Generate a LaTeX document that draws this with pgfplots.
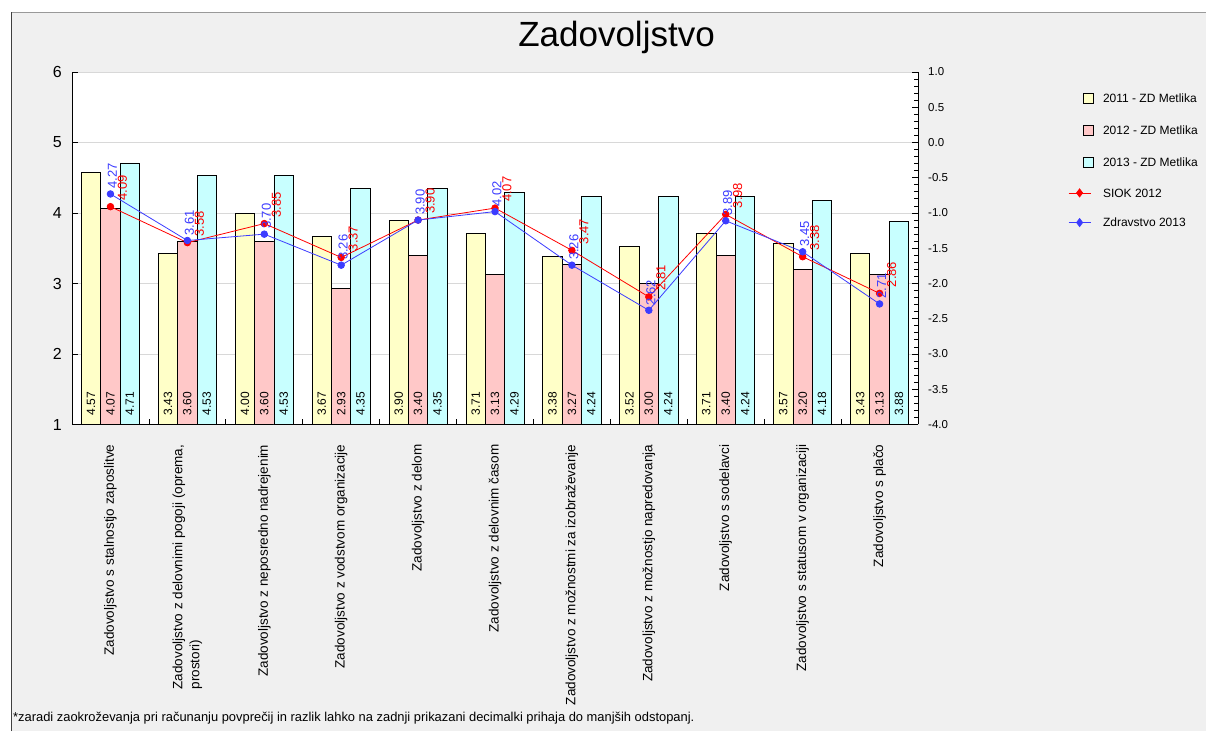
\documentclass[border=0pt]{standalone}
\usepackage{pgfplots}
\pgfplotsset{compat=1.18}
\usepackage{pgfplotstable}
\usepackage{fontspec}
\setmainfont{Liberation Sans}
\definecolor{cYel}{HTML}{FFFFC8}
\definecolor{cPink}{HTML}{FFC8C8}
\definecolor{cCyan}{HTML}{C8FFFF}
\definecolor{cRed}{HTML}{FF0000}
\definecolor{cBlue}{HTML}{3C3CFF}
\definecolor{cBg}{HTML}{F0F0F0}
\definecolor{cGrid}{HTML}{D8D8D8}

\pgfplotstableread{
x a b c s z
0 4.57 4.07 4.71 4.09 4.27
1 3.43 3.60 4.53 3.58 3.61
2 4.00 3.60 4.53 3.85 3.70
3 3.67 2.93 4.35 3.37 3.26
4 3.90 3.40 4.35 3.90 3.90
5 3.71 3.13 4.29 4.07 4.02
6 3.38 3.27 4.24 3.47 3.26
7 3.52 3.00 4.24 2.81 2.62
8 3.71 3.40 4.24 3.98 3.89
9 3.57 3.20 4.18 3.38 3.45
10 3.43 3.13 3.88 2.86 2.71
}\datatable

\pgfplotsset{
 mybarlegend/.style={legend image code/.code={\path (0pt,0pt) (25pt,0pt); \draw[##1,/tikz/.cd,line width=0.8pt] (15pt,-5pt) rectangle (25pt,5pt);}},
 mylinelegend/.style={legend image code/.code={\path (0pt,0pt) (25pt,0pt); \draw[mark repeat=2,mark phase=2,##1,/tikz/.cd,mark=diamond*,mark size=4pt] plot coordinates {(0pt,0pt) (11pt,0pt) (22pt,0pt)};}},
 barlbl/.style={forget plot, draw=none, point meta=explicit,
   nodes near coords={\pgfmathprintnumber[fixed,fixed zerofill,precision=2,assume math mode=true]{\pgfplotspointmeta}},
   every node near coord/.append style={font=\fontsize{12}{14}\selectfont, text=black, inner sep=0pt, yshift=9pt, rotate=90, anchor=west}},
 linelbl/.style n args={3}{forget plot, draw=none, point meta=explicit,
   nodes near coords={\pgfmathprintnumber[fixed,fixed zerofill,precision=2,assume math mode=true]{\pgfplotspointmeta}},
   every node near coord/.append style={font=\fontsize{13}{15}\selectfont, text=#1, inner sep=0pt, xshift=#2, yshift=#3, rotate=90, anchor=west}},
}

\begin{document}
\begin{tikzpicture}
\path[use as bounding box] (0,0) rectangle (1206pt,731pt);
\fill[white] (0,0) rectangle (1206pt,731pt);
\fill[cBg] (11pt,0) rectangle (1206pt,718.5pt);
\draw[color=black!40, line width=1.5pt] (11pt,718.5pt) -- (1206pt,718.5pt);
\draw[color=black!75, line width=1pt] (11.5pt,0) -- (11.5pt,719pt);
\node[anchor=base, inner sep=0pt, font=\fontsize{35}{40}\selectfont] at (616.5pt,684pt) {Zadovoljstvo};
\node[anchor=base west, inner sep=0pt, font=\fontsize{12.9}{15}\selectfont] at (13pt,10pt) {*zaradi zaokroževanja pri računanju povprečij in razlik lahko na zadnji prikazani decimalki prihaja do manjših odstopanj.};

\begin{axis}[
  at={(72pt,306.5pt)}, anchor=south west, scale only axis,
  width=846pt, height=352.5pt,
  xmin=-0.5, xmax=10.5, ymin=1, ymax=6,
  axis x line*=bottom, axis y line*=left,
  axis background/.style={fill=white},
  axis line style={line width=1pt, black},
  ytick={1,2,3,4,5,6}, yticklabels={1,2,3,4,5,6},
  yticklabel style={font=\fontsize{16}{18}\selectfont, inner sep=0pt, xshift=-10pt},
  ymajorgrids, grid style={cGrid, line width=0.8pt},
  tick align=inside, major tick length=6pt, minor tick length=6pt,
  every tick/.style={black, line width=0.8pt},
  xtick={0,...,10},
  major x tick style={draw=none},
  minor xtick={0.5,1.5,...,9.5},
  xticklabels={
    {Zadovoljstvo s stalnostjo zaposlitve},
    {Zadovoljstvo z delovnimi pogoji (oprema,\\prostori)},
    {Zadovoljstvo z neposredno nadrejenim},
    {Zadovoljstvo z vodstvom organizacije},
    {Zadovoljstvo z delom},
    {Zadovoljstvo z delovnim časom},
    {Zadovoljstvo z možnostmi za izobraževanje},
    {Zadovoljstvo z možnostjo napredovanja},
    {Zadovoljstvo s sodelavci},
    {Zadovoljstvo s statusom v organizaciji},
    {Zadovoljstvo s plačo}},
  xticklabel style={font=\fontsize{13.5}{17}\selectfont, align=left, inner sep=0pt, yshift=-20pt, rotate=90, anchor=east},
  legend cell align=left,
  legend style={at={(axis description cs:1.1773,0.9404)}, anchor=north west, draw=none, fill=none,
    inner sep=0pt, row sep=21pt, column sep=9pt, font=\fontsize{12}{14}\selectfont,
    nodes={inner sep=0pt, text height=8.6pt, text depth=0pt}},
]
\addplot[ybar, bar width=19.4pt, bar shift=0pt, fill=cYel, draw=black, line width=0.8pt, mybarlegend] table[x expr=\thisrow{x}-0.252, y=a] {\datatable};
\addlegendentry{2011 - ZD Metlika}
\addplot[ybar, bar width=19.4pt, bar shift=0pt, fill=cPink, draw=black, line width=0.8pt, mybarlegend] table[x=x, y=b] {\datatable};
\addlegendentry{2012 - ZD Metlika}
\addplot[ybar, bar width=19.4pt, bar shift=0pt, fill=cCyan, draw=black, line width=0.8pt, mybarlegend] table[x expr=\thisrow{x}+0.252, y=c] {\datatable};
\addlegendentry{2013 - ZD Metlika}

\addplot[barlbl] table[x expr=\thisrow{x}-0.252, y expr=1, meta=a] {\datatable};
\addplot[barlbl] table[x=x, y expr=1, meta=b] {\datatable};
\addplot[barlbl] table[x expr=\thisrow{x}+0.252, y expr=1, meta=c] {\datatable};

\addplot[color=cRed, line width=0.8pt, mark=*, mark size=3.3pt, mark options={fill=cRed, draw=cRed}, mylinelegend] table[x=x, y=s] {\datatable};
\addlegendentry{SIOK 2012}
\addplot[color=cBlue, line width=0.8pt, mark=*, mark size=3.3pt, mark options={fill=cBlue, draw=cBlue}, mylinelegend] table[x=x, y=z] {\datatable};
\addlegendentry{Zdravstvo 2013}

\addplot[linelbl={cRed}{12pt}{6pt}] table[x=x, y=s, meta=s] {\datatable};
\addplot[linelbl={cBlue}{2pt}{5pt}] table[x=x, y=z, meta=z] {\datatable};
\end{axis}

\begin{axis}[
  at={(72pt,306.5pt)}, anchor=south west, scale only axis,
  width=846pt, height=352.5pt,
  xmin=-0.5, xmax=10.5, ymin=-4, ymax=1,
  axis x line=none, axis y line*=right,
  axis line style={line width=1pt, black},
  ytick={-4,-3.5,-3,-2.5,-2,-1.5,-1,-0.5,0,0.5,1},
  yticklabels={-4.0,-3.5,-3.0,-2.5,-2.0,-1.5,-1.0,-0.5,0.0,0.5,1.0},
  minor y tick num=4,
  tick align=inside, major tick length=6pt, minor tick length=4pt,
  every tick/.style={black, line width=0.8pt},
  yticklabel style={font=\fontsize{11.5}{13}\selectfont, anchor=west, inner sep=0pt, xshift=10pt},
]
\end{axis}
\end{tikzpicture}
\end{document}
